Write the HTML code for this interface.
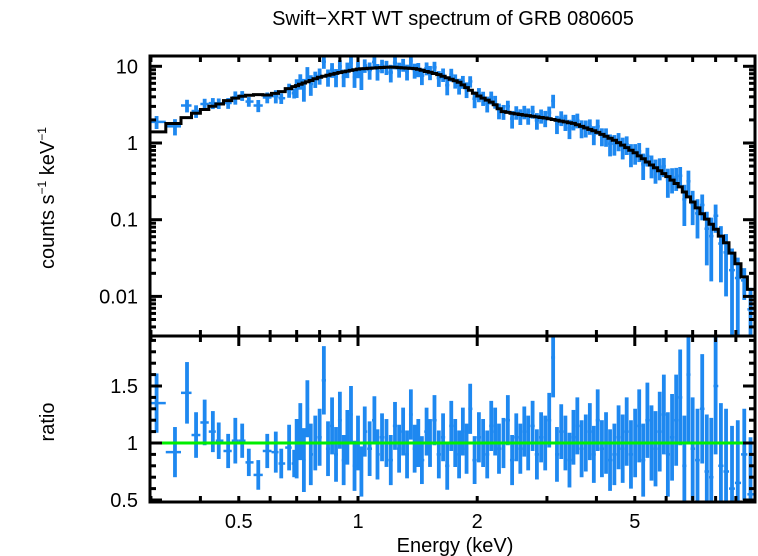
<!DOCTYPE html>
<html><head><meta charset="utf-8"><style>
html,body{margin:0;padding:0;background:#fff;}
svg{display:block;font-family:"Liberation Sans",sans-serif;}
</style></head><body>
<svg id="chart" width="758" height="556" viewBox="0 0 758 556">
<text x="453" y="25" font-size="20" text-anchor="middle">Swift−XRT WT spectrum of GRB 080605</text>
<text transform="translate(54,198) rotate(-90)" font-size="20" text-anchor="middle">counts s<tspan font-size="12" dy="-8">−1</tspan><tspan dy="8"> keV</tspan><tspan font-size="12" dy="-8">−1</tspan></text>
<text transform="translate(54,422) rotate(-90)" font-size="20" text-anchor="middle">ratio</text>
<text x="455" y="552" font-size="20" text-anchor="middle">Energy (keV)</text>
<g id="layer"></g>
</svg>
<script>
// model curve (counts s^-1 keV^-1)
const modelE=[0.3,0.33,0.36,0.4,0.45,0.5,0.55,0.6,0.65,0.7,0.8,0.9,1.0,1.2,1.4,1.6,1.8,2.0,2.2,2.3,2.5,3.0,3.5,4.0,4.5,5.0,5.5,6.0,6.5,7.0,7.5,8.0,8.5,9.0,9.5,10];
const modelV=[1.3,1.6,2.0,2.6,3.3,4.0,4.3,4.2,4.8,5.6,7.2,8.3,9.2,9.8,9.3,7.8,6.2,4.2,3.3,2.6,2.4,2.1,1.8,1.4,1.05,0.75,0.52,0.38,0.27,0.17,0.11,0.075,0.05,0.03,0.017,0.01];
// data bins
const dataE=[0.31,0.345,0.37,0.39,0.41,0.43,0.445,0.47,0.49,0.51,0.53,0.56,0.59,0.62,0.64,0.67,0.69,
0.70,0.715,0.73,0.745,0.76,0.78,0.80,0.82,0.84,0.86,
0.88,0.90,0.92,0.94,0.96,0.98,1.00,1.02,1.04,1.07,
1.10,1.12,1.15,1.18,1.21,1.24,1.27,1.30,1.33,1.36,
1.39,1.42,1.45,1.49,1.52,1.56,1.60,1.64,1.68,1.72,
1.76,1.80,1.84,1.88,1.92,1.97,2.02,2.07,2.12,2.17,
2.22,2.27,2.33,2.39,2.45,2.51,2.57,2.63,2.69,2.76,
2.83,2.90,2.97,3.04,3.11,3.18,3.26,3.34,3.42,3.50,
3.58,3.67,3.76,3.85,3.94,4.03,4.13,4.23,4.33,4.44,
4.55,4.66,4.77,4.89,5.01,5.13,5.25,5.38,5.51,5.64,
5.78,5.92,6.06,6.21,6.36,6.51,6.67,6.83,7.0,7.2,
7.4,7.6,7.8,8.0,8.25,8.5,8.8,9.1,9.45,9.8];
const ratio=[1.35,0.92,1.44,1.07,1.18,1.1,1.02,0.93,1.02,1.02,0.83,0.72,0.93,0.92,0.82,0.96,0.82,
0.95,1.1,0.85,1.3,0.9,1.0,1.05,1.55,0.95,1.15,
0.9,1.2,0.85,1.05,1.25,0.8,1.0,0.75,1.1,0.95,
1.2,0.9,1.05,1.0,0.85,1.15,0.95,1.1,0.9,1.25,
0.95,1.0,0.85,1.1,1.0,1.2,0.9,1.05,0.8,1.15,
1.0,0.9,1.1,0.95,1.3,0.85,1.05,1.0,0.9,1.15,
1.1,0.95,1.0,1.2,0.85,1.05,0.95,1.1,1.0,1.15,
0.9,1.05,1.0,1.2,1.75,0.9,1.1,1.0,0.85,1.05,
1.15,0.95,1.0,1.1,0.9,1.2,0.95,1.0,0.85,0.9,
1.05,0.95,1.1,0.9,1.0,1.15,0.85,1.2,1.0,0.95,
1.1,1.25,0.9,1.05,1.2,1.4,0.8,1.6,0.95,0.85,
1.3,0.75,0.7,1.5,0.8,0.75,0.6,0.65,0.9,0.55];
const ratioErr=[0.26,0.22,0.27,0.2,0.2,0.18,0.16,0.15,0.2,0.15,0.12,0.13,0.15,0.18,0.13,0.2,0.12,
0.26,0.25,0.28,0.25,0.27,0.24,0.25,0.3,0.24,0.25,
0.24,0.25,0.22,0.24,0.25,0.22,0.24,0.22,0.22,0.24,
0.21,0.22,0.21,0.21,0.22,0.21,0.21,0.21,0.21,0.22,
0.21,0.21,0.21,0.21,0.21,0.22,0.21,0.21,0.21,0.22,
0.21,0.21,0.21,0.22,0.22,0.21,0.22,0.21,0.21,0.22,
0.21,0.22,0.22,0.22,0.22,0.21,0.22,0.22,0.24,0.22,
0.22,0.22,0.24,0.24,0.35,0.24,0.24,0.24,0.24,0.24,
0.25,0.25,0.25,0.25,0.25,0.27,0.25,0.27,0.27,0.27,
0.28,0.3,0.3,0.3,0.3,0.32,0.32,0.33,0.33,0.33,
0.35,0.35,0.37,0.38,0.4,0.42,0.44,0.6,0.45,0.45,
0.48,0.5,0.52,0.6,0.55,0.55,0.55,0.55,0.4,0.5];
const topTicks=[10,1,0.1,0.01];
const topTickLabels=["10","1","0.1","0.01"];
const ratioTicks=[0.5,1,1.5];
const ratioTickLabels=["0.5","1","1.5"];
const xTicks=[0.5,1,2,5];
const xTickLabels=["0.5","1","2","5"];

const L=150,R=755,T=56,M=336,B=502;
const xS=e=>358+396*Math.log10(e);
const yTop=v=>143-76.7*Math.log10(v);
const yRat=r=>443-114*(r-1);
const g=document.getElementById('layer');
const NS='http://www.w3.org/2000/svg';
function mk(tag,at){const e=document.createElementNS(NS,tag);for(const k in at)e.setAttribute(k,at[k]);g.appendChild(e);return e;}
function modelAt(e){
  if(e<=modelE[0])return modelV[0];
  for(let i=1;i<modelE.length;i++){if(e<=modelE[i]){const t=(Math.log(e)-Math.log(modelE[i-1]))/(Math.log(modelE[i])-Math.log(modelE[i-1]));return Math.exp(Math.log(modelV[i-1])+t*(Math.log(modelV[i])-Math.log(modelV[i-1])));}}
  return modelV[modelV.length-1];
}
const n=Math.min(dataE.length,ratio.length,ratioErr.length);
function edges(i){const lo=i>0?Math.sqrt(dataE[i-1]*dataE[i]):dataE[0]*0.965;const hi=i<n-1?Math.sqrt(dataE[i]*dataE[i+1]):Math.min(dataE[i]*1.03,10.05);return[lo,hi];}
const clipT=v=>Math.max(T,Math.min(M,v));
const clipB=v=>Math.max(M,Math.min(B,v));
const SW=3.8;
for(let i=0;i<n;i++){
  const [lo,hi]=edges(i);const m=modelAt(dataE[i]);
  const x=xS(dataE[i]);
  const v=m*ratio[i],lw=m*Math.max(ratio[i]-ratioErr[i],0.001),up=m*(ratio[i]+ratioErr[i]);
  let e=mk('line',{x1:xS(lo),x2:xS(hi),y1:yTop(v),y2:yTop(v),stroke:'#1e88f0','stroke-width':2.5});
  
  
  e=mk('line',{x1:x,x2:x,y1:clipT(yTop(lw)),y2:clipT(yTop(up)),stroke:'#1e88f0','stroke-width':SW});
  
  
  const yr=yRat(ratio[i]);
  if(yr>=M&&yr<=B){
    e=mk('line',{x1:xS(lo),x2:xS(hi),y1:yr,y2:yr,stroke:'#1e88f0','stroke-width':2.5});
    
    
  }
  e=mk('line',{x1:x,x2:x,y1:clipB(yRat(ratio[i]-ratioErr[i])),y2:clipB(yRat(ratio[i]+ratioErr[i])),stroke:'#1e88f0','stroke-width':SW});
  
  
}
let d='';
for(let i=0;i<n;i++){const [lo,hi]=edges(i);const y=clipT(yTop(modelAt(dataE[i])));d+=(i?'L':'M')+xS(lo).toFixed(1)+','+y.toFixed(1)+'L'+xS(hi).toFixed(1)+','+y.toFixed(1);}
let mp=mk('path',{d:d,fill:'none',stroke:'#000','stroke-width':3});


let ul=mk('line',{x1:L,x2:R,y1:yRat(1),y2:yRat(1),stroke:'#00ee00','stroke-width':3});


let f=mk('rect',{x:L,y:T,width:R-L,height:M-T,fill:'none',stroke:'#000','stroke-width':3});


f=mk('rect',{x:L,y:M,width:R-L,height:B-M,fill:'none',stroke:'#000','stroke-width':3});


const minorX=[0.3,0.4,0.6,0.7,0.8,0.9,3,4,6,7,8,9];
function tk(x1,y1,x2,y2,w){const e=mk('line',{x1:x1,y1:y1,x2:x2,y2:y2,stroke:'#000','stroke-width':w||3});}
for(const e of minorX.concat(xTicks)){const x=xS(e);const len=xTicks.includes(e)?10:6;
  tk(x,T,x,T+6);tk(x,M-len,x,M+len);tk(x,B,x,B-6);}
xTicks.forEach((e,i)=>{const t=mk('text',{x:xS(e),y:528,'font-size':20,'text-anchor':'middle'});t.textContent=xTickLabels[i];
  
  });
topTicks.forEach((v,i)=>{const y=yTop(v);tk(L,y,L+12,y);tk(R,y,R-12,y);
  const t=mk('text',{x:138,y:y+7,'font-size':20,'text-anchor':'end'});t.textContent=topTickLabels[i];
  
  
  for(let k=2;k<=9;k++){const yy=yTop(v*k);if(yy>T&&yy<M){tk(L,yy,L+6,yy);tk(R,yy,R-6,yy);}}});
for(let k=3;k<=9;k++){const yy=yTop(0.001*k);if(yy<M){tk(L,yy,L+6,yy);tk(R,yy,R-6,yy);}}
for(let r=0.5;r<=1.95;r+=0.1){const y=yRat(r);const maj=ratioTicks.some(t=>Math.abs(t-r)<1e-6);
  tk(L,y,L+(maj?12:6),y);tk(R,y,R-(maj?12:6),y);}
ratioTicks.forEach((v,i)=>{const t=mk('text',{x:138,y:yRat(v)+7,'font-size':20,'text-anchor':'end'});t.textContent=ratioTickLabels[i];
  
  });
</script>
</body></html>
